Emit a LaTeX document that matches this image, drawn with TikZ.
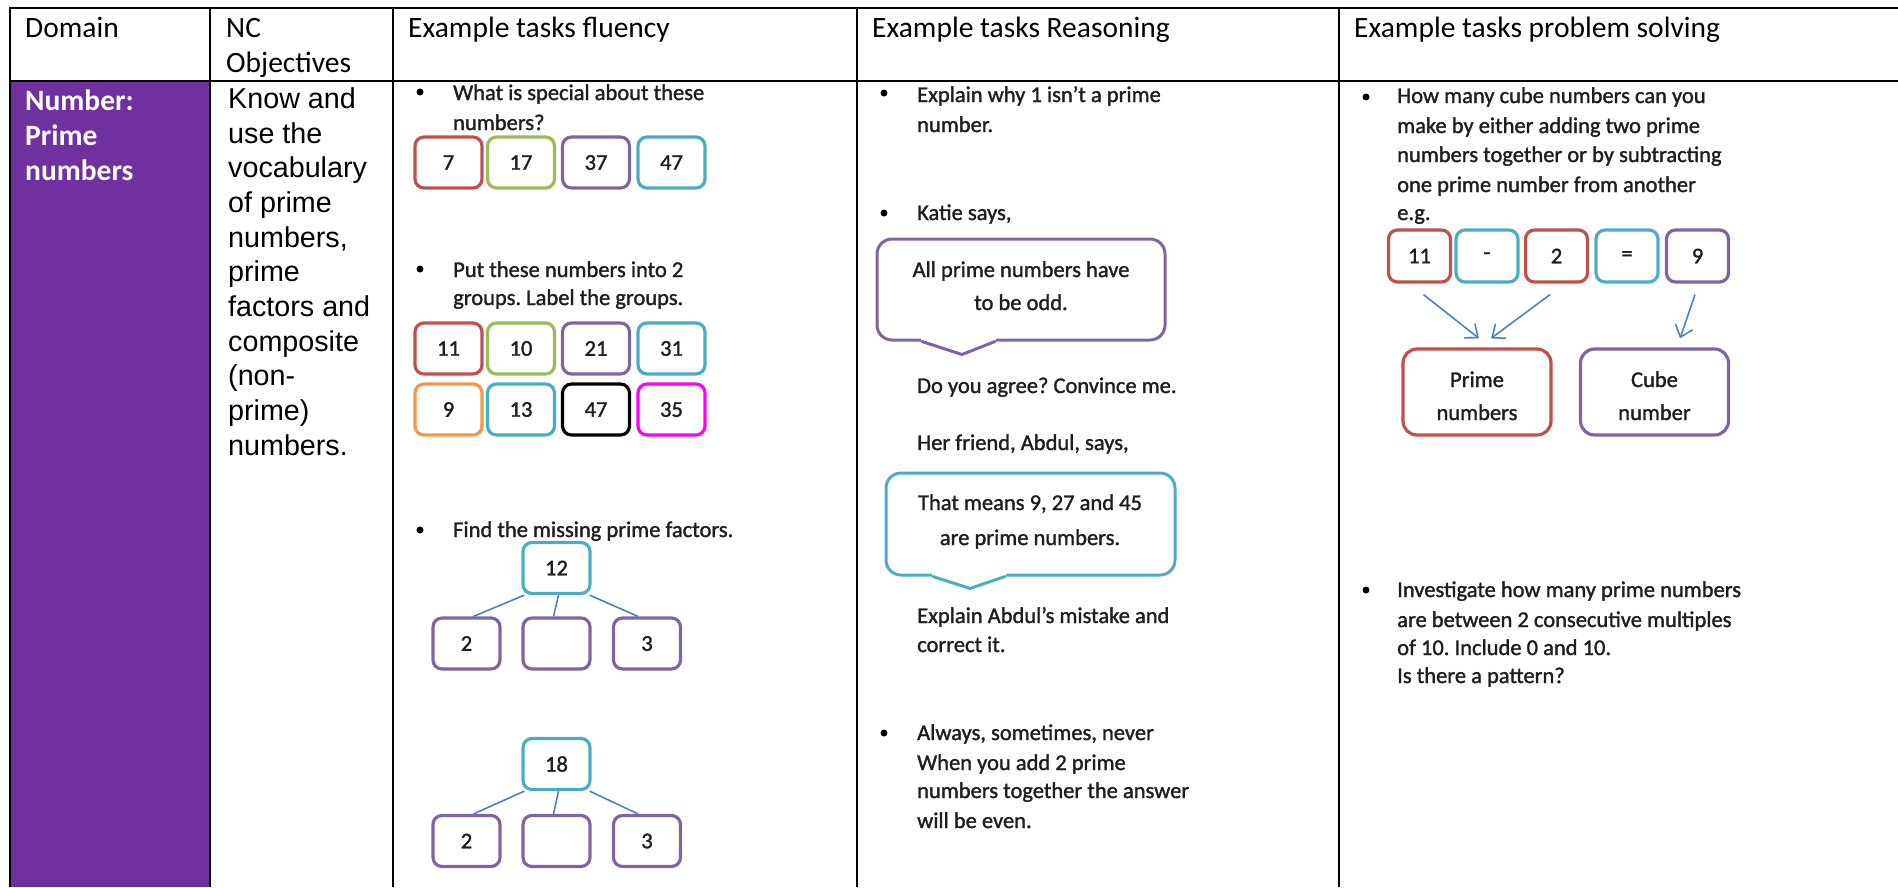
\documentclass[tikz,border=0pt]{standalone}
\usepackage{fontspec}
\setmainfont{Carlito}
\newfontfamily\arialf{Liberation Sans}
\newfontfamily\imgf[FakeBold=1.4]{Carlito}
\usetikzlibrary{arrows.meta,calc}
\definecolor{cpurple}{HTML}{7030A0}
\definecolor{ored}{HTML}{C0504D}
\definecolor{ogreen}{HTML}{9BBB59}
\definecolor{opurple}{HTML}{8064A2}
\definecolor{oblue}{HTML}{4BACC6}
\definecolor{oorange}{HTML}{F79646}
\definecolor{omag}{HTML}{FF00FF}
\definecolor{lineblue}{HTML}{4F81BD}
\definecolor{ink}{HTML}{1E1E1E}
\frenchspacing
\begin{document}
\frenchspacing
\begin{tikzpicture}[x=1pt,y=-1pt,
  grid/.style={line width=2.2pt, black},
  hdr/.style={anchor=base west, inner sep=0pt, font=\fontsize{29.5}{35}\selectfont},
  dom/.style={anchor=base west, inner sep=0pt, text=white, font=\bfseries\fontsize{29.5}{35}\selectfont},
  obj/.style={anchor=base west, inner sep=0pt, font=\arialf\fontsize{28.7}{34.7}\selectfont},
  tx/.style={anchor=base west, inner sep=0pt, text=ink, font=\imgf\fontsize{22.5}{28}\selectfont},
  txc/.style={anchor=base, inner sep=0pt, text=ink, font=\imgf\fontsize{22.5}{28}\selectfont},
  bul/.style={circle, fill=black, inner sep=0pt, minimum size=7pt},
  nb/.style={draw=#1, line width=3.2pt, rounded corners=9pt, minimum width=67pt, minimum height=51pt, inner sep=0pt, text=ink, font=\imgf\fontsize{22.5}{28}\selectfont},
  pb/.style={draw=#1, line width=3.2pt, rounded corners=9pt, minimum width=62pt, minimum height=52pt, inner sep=0pt, text=ink, font=\imgf\fontsize{22.5}{28}\selectfont},
  bigbox/.style={draw=#1, line width=3.2pt, rounded corners=14pt, minimum width=148pt, minimum height=86pt, inner sep=0pt},
  bubble/.style={draw=#1, line width=3pt, rounded corners=15pt, inner sep=0pt},
  tail/.style={draw=#1, line width=3pt, line cap=round, line join=round},
  branch/.style={draw=lineblue, line width=1.6pt},
  arr/.style={draw=lineblue, line width=1.6pt, -{Straight Barb[length=11pt,width=18pt,line width=1.6pt]}}
]
\useasboundingbox (0,0) rectangle (1898,887);
% table
\fill[cpurple] (10,81) rectangle (210,887);
\draw[grid] (9,8) -- (1898,8);
\draw[grid] (9,81) -- (1898,81);
\foreach \x in {10,210,393,857,1339} \draw[grid] (\x,7) -- (\x,887);

% headers
\node[hdr] (hDomain) at (25,37) {Domain};
\node[hdr] (hNC1) at (226,37) {NC};
\node[hdr] (hNC2) at (226,72) {Objectives};
\node[hdr] (hFlu) at (408,37) {Example tasks fluency};
\node[hdr] (hRea) at (872,37) {Example tasks Reasoning};
\node[hdr] (hPro) at (1354,37) {Example tasks problem solving};

% domain
\node[dom] (d1) at (25,110) {Number:};
\node[dom] (d2) at (25,145) {Prime};
\node[dom] (d3) at (25,180) {numbers};

% objectives
\node[obj] (o1) at (228,108) {Know and};
\node[obj] (o2) at (228,143) {use the};
\node[obj] (o3) at (228,177) {vocabulary};
\node[obj] (o4) at (228,212) {of prime};
\node[obj] (o5) at (228,247) {numbers,};
\node[obj] (o6) at (228,281) {prime};
\node[obj] (o7) at (228,316) {factors and};
\node[obj] (o8) at (228,351) {composite};
\node[obj] (o9) at (228,385) {(non-};
\node[obj] (o10) at (228,420) {prime)};
\node[obj] (o11) at (228,455) {numbers.};

% ---------- fluency ----------
\node[bul] (fb1) at (420,92) {};
\node[tx] (f1a) at (453,100) {What is special about these};
\node[tx] (f1b) at (453,130) {numbers?};
\node[nb=ored] (r1a) at (448.5,162.5) {7};
\node[nb=ogreen] (r1b) at (521,162.5) {17};
\node[nb=opurple] (r1c) at (596,162.5) {37};
\node[nb=oblue] (r1d) at (671.5,162.5) {47};

\node[bul] (fb2) at (420,269) {};
\node[tx] (f2a) at (453,277) {Put these numbers into 2};
\node[tx] (f2b) at (453,305) {groups. Label the groups.};
\node[nb=ored] (r2a) at (448.5,348.5) {11};
\node[nb=ogreen] (r2b) at (521,348.5) {10};
\node[nb=opurple] (r2c) at (596,348.5) {21};
\node[nb=oblue] (r2d) at (671.5,348.5) {31};
\node[nb=oorange] (r3a) at (448.5,409.5) {9};
\node[nb=oblue] (r3b) at (521,409.5) {13};
\node[nb=black] (r3c) at (596,409.5) {47};
\node[nb=omag] (r3d) at (671.5,409.5) {35};

\node[bul] (fb3) at (420,530) {};
\node[tx] (f3a) at (453,537) {Find the missing prime factors.};
% tree 1
\node[nb=oblue] (t12) at (556.5,568) {12};
\node[nb=opurple] (t12a) at (466.5,643.5) {2};
\node[nb=opurple] (t12b) at (556.5,643.5) {};
\node[nb=opurple] (t12c) at (647,643.5) {3};
\draw[branch] ($(t12.south west)+(3,0)$) -- ($(t12a.north)+(7,0)$);
\draw[branch] ($(t12.south)+(2,0)$) -- ($(t12b.north)+(-3,0)$);
\draw[branch] ($(t12.south east)+(-2,0)$) -- ($(t12c.north)+(-9,0)$);
% tree 2
\node[nb=oblue] (t18) at (556.5,764) {18};
\node[nb=opurple] (t18a) at (466.5,841) {2};
\node[nb=opurple] (t18b) at (556.5,841) {};
\node[nb=opurple] (t18c) at (647,841) {3};
\draw[branch] ($(t18.south west)+(3,0)$) -- ($(t18a.north)+(7,0)$);
\draw[branch] ($(t18.south)+(2,0)$) -- ($(t18b.north)+(-3,0)$);
\draw[branch] ($(t18.south east)+(-2,0)$) -- ($(t18c.north)+(-9,0)$);

% ---------- reasoning ----------
\node[bul] (rb1) at (884,93) {};
\node[tx] (e1a) at (917,102) {Explain why 1 isn’t a prime};
\node[tx] (e1b) at (917,132) {number.};
\node[bul] (rb2) at (884,213) {};
\node[tx] (e2a) at (917,220) {Katie says,};
\node[bubble=opurple, minimum width=288pt, minimum height=101pt] (katie) at (1021,289.5) {};
\fill[white] (921,337) rectangle (996,343);
\draw[tail=opurple] ($(katie.south)+(-99,0)$) -- ($(katie.south)+(-59,13)$) -- ($(katie.south)+(-26,0)$);
\node[txc] (k1) at (1021,277) {All prime numbers have};
\node[txc] (k2) at (1021,310) {to be odd.};
\node[tx] (e3) at (917,393) {Do you agree? Convince me.};
\node[tx] (e4) at (917,450) {Her friend, Abdul, says,};
\node[bubble=oblue, minimum width=289pt, minimum height=102pt] (abdul) at (1030.5,524) {};
\fill[white] (932,572) rectangle (1006,578);
\draw[tail=oblue] ($(abdul.south)+(-97.5,0)$) -- ($(abdul.south)+(-60.5,12)$) -- ($(abdul.south)+(-25.5,0)$);
\node[txc] (a1) at (1030,510) {That means 9, 27 and 45};
\node[txc] (a2) at (1030,545) {are prime numbers.};
\node[tx] (e5a) at (917,623) {Explain Abdul’s mistake and};
\node[tx] (e5b) at (917,652) {correct it.};
\node[bul] (rb3) at (884,733) {};
\node[tx] (e6a) at (917,740) {Always, sometimes, never};
\node[tx] (e6b) at (917,770) {When you add 2 prime};
\node[tx] (e6c) at (917,798) {numbers together the answer};
\node[tx] (e6d) at (917,828) {will be even.};

% ---------- problem solving ----------
\node[bul] (pb1) at (1366,97) {};
\node[tx] (p1a) at (1397,103) {How many cube numbers can you};
\node[tx] (p1b) at (1397,133) {make by either adding two prime};
\node[tx] (p1c) at (1397,162) {numbers together or by subtracting};
\node[tx] (p1d) at (1397,192) {one prime number from another};
\node[tx] (p1e) at (1397,220) {e.g.};
\node[pb=ored] (q1) at (1419.5,256) {11};
\node[pb=oblue] (q2) at (1487,256) {-};
\node[pb=ored] (q3) at (1556.5,256) {2};
\node[pb=oblue] (q4) at (1627,256) {=};
\node[pb=opurple] (q5) at (1697.5,256) {9};
\node[bigbox=ored] (primes) at (1477,392) {};
\node[bigbox=opurple] (cube) at (1654.5,392) {};
\node[txc] (pr1) at (1477,387) {Prime};
\node[txc] (pr2) at (1477,420) {numbers};
\node[txc] (cu1) at (1654.5,387) {Cube};
\node[txc] (cu2) at (1654.5,420) {number};
\draw[arr] ($(q1.south)+(4,11)$) -- ($(primes.north)+(2,-9)$);
\draw[arr] ($(q3.south)+(-6.5,11)$) -- ($(primes.north)+(14,-9)$);
\draw[arr] ($(q5.south)+(-2.5,11)$) -- ($(cube.north)+(25.5,-9)$);

\node[bul] (pb2) at (1366,590) {};
\node[tx] (p2a) at (1397,597) {Investigate how many prime numbers};
\node[tx] (p2b) at (1397,627) {are between 2 consecutive multiples};
\node[tx] (p2c) at (1397,655) {of 10. Include 0 and 10.};
\node[tx] (p2d) at (1397,683) {Is there a pattern?};
\end{tikzpicture}
\end{document}
